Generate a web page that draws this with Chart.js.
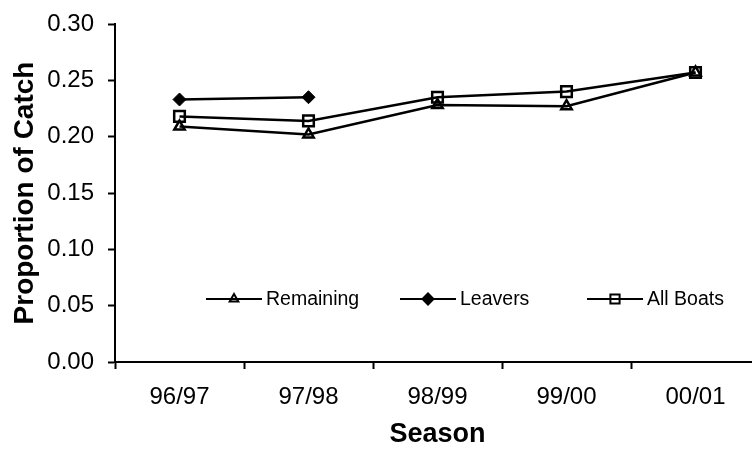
<!DOCTYPE html>
<html>
<head>
<meta charset="utf-8">
<script src="https://cdn.jsdelivr.net/npm/chart.js@4/dist/chart.umd.min.js"></script>
<style>
  html, body { margin: 0; padding: 0; overflow: hidden; background: #fff; width: 752px; height: 452px; }
  #wrap { width: 770px; height: 452px; }
</style>
</head>
<body>
<div id="wrap"><canvas id="c" width="770" height="452"></canvas></div>
<script>
// Seasons on the x axis
const seasons = ['96/97', '97/98', '98/99', '99/00', '00/01'];

// Proportion of catch per season
const remaining = [0.209, 0.202, 0.228, 0.227, 0.257];
const leavers   = [0.233, 0.235, null, null, null];
const allBoats  = [0.218, 0.214, 0.235, 0.240, 0.257];

// Y axis tick values
const yTicks = [0.00, 0.05, 0.10, 0.15, 0.20, 0.25, 0.30];

const FONT = "'Liberation Sans', Arial, Helvetica, sans-serif";
Chart.defaults.font.family = FONT;
Chart.defaults.color = '#000';

// Legend drawn inside the plot area: a short line with the series marker, then the label
const inlineLegend = {
  id: 'inlineLegend',
  afterDatasetsDraw(chart, args, opts) {
    const ctx = chart.ctx;
    ctx.save();
    chart.data.datasets.forEach((ds, i) => {
      const pos = opts.items[i];
      const y = opts.y;
      ctx.strokeStyle = '#000';
      ctx.lineWidth = 1.8;
      ctx.beginPath();
      ctx.moveTo(pos.x0, y);
      ctx.lineTo(pos.x1, y);
      ctx.stroke();
      ctx.fillStyle = ds.pointBackgroundColor;
      ctx.strokeStyle = '#000';
      ctx.lineWidth = 2;
      Chart.helpers.drawPoint(ctx, {
        pointStyle: ds.pointStyle,
        radius: ds.pointRadius - 1,
        rotation: 0,
        borderWidth: 2
      }, (pos.x0 + pos.x1) / 2, y);
      ctx.fillStyle = '#000';
      ctx.font = opts.font;
      ctx.textBaseline = 'middle';
      ctx.textAlign = 'left';
      ctx.fillText(ds.label, pos.x1 + 4, y + 1);
    });
    ctx.restore();
  }
};

new Chart(document.getElementById('c'), {
  type: 'line',
  data: {
    labels: seasons,
    datasets: [
      {
        label: 'Remaining',
        data: remaining,
        borderColor: '#000',
        borderWidth: 2.5,
        pointStyle: 'triangle',
        pointRadius: 6,
        pointBorderWidth: 2.5,
        pointBorderColor: '#000',
        pointBackgroundColor: 'rgba(255,255,255,0)'
      },
      {
        label: 'Leavers',
        data: leavers,
        borderColor: '#000',
        borderWidth: 2.5,
        pointStyle: 'rectRot',
        pointRadius: 6.5,
        pointBorderWidth: 1,
        pointBorderColor: '#000',
        pointBackgroundColor: '#000'
      },
      {
        label: 'All Boats',
        data: allBoats,
        borderColor: '#000',
        borderWidth: 2.5,
        pointStyle: 'rect',
        pointRadius: 7.5,
        pointBorderWidth: 2.5,
        pointBorderColor: '#000',
        pointBackgroundColor: 'rgba(255,255,255,0)'
      }
    ]
  },
  options: {
    responsive: false,
    animation: false,
    layout: { padding: { top: 24, right: 10, left: 0, bottom: 0 } },
    plugins: {
      legend: { display: false },
      tooltip: { enabled: false },
      inlineLegend: {
        y: 299,
        font: "19.5px " + FONT,
        items: [
          { x0: 206, x1: 262 },
          { x0: 400, x1: 456 },
          { x0: 587, x1: 643 }
        ]
      }
    },
    scales: {
      x: {
        type: 'category',
        offset: true,
        grid: {
          offset: true,
          drawOnChartArea: false,
          drawTicks: true,
          tickLength: 7,
          tickColor: '#000',
          tickWidth: 2
        },
        border: { display: true, color: '#000', width: 2 },
        ticks: { font: { size: 24 }, padding: 14, maxRotation: 0, color: '#000' },
        title: {
          display: true,
          text: 'Season',
          font: { size: 27, weight: 'bold' },
          padding: { top: 0, bottom: 1 }
        },
        afterFit(scale) { scale.height = 90; }
      },
      y: {
        min: 0,
        max: 0.30,
        afterBuildTicks(scale) { scale.ticks = yTicks.map(v => ({ value: v })); },
        grid: {
          drawOnChartArea: false,
          drawTicks: true,
          tickLength: 7,
          tickColor: '#000',
          tickWidth: 2
        },
        border: { display: true, color: '#000', width: 2 },
        ticks: {
          font: { size: 24 },
          padding: 14,
          color: '#000',
          callback: v => Number(v).toFixed(2)
        },
        title: {
          display: true,
          text: 'Proportion of Catch',
          font: { size: 28, weight: 'bold' },
          padding: { top: 8, bottom: 0 }
        },
        afterFit(scale) {
          scale.width = 115;
          scale.paddingTop = 0;
          scale.paddingBottom = 0;
        }
      }
    }
  },
  plugins: [inlineLegend]
});
</script>
</body>
</html>
